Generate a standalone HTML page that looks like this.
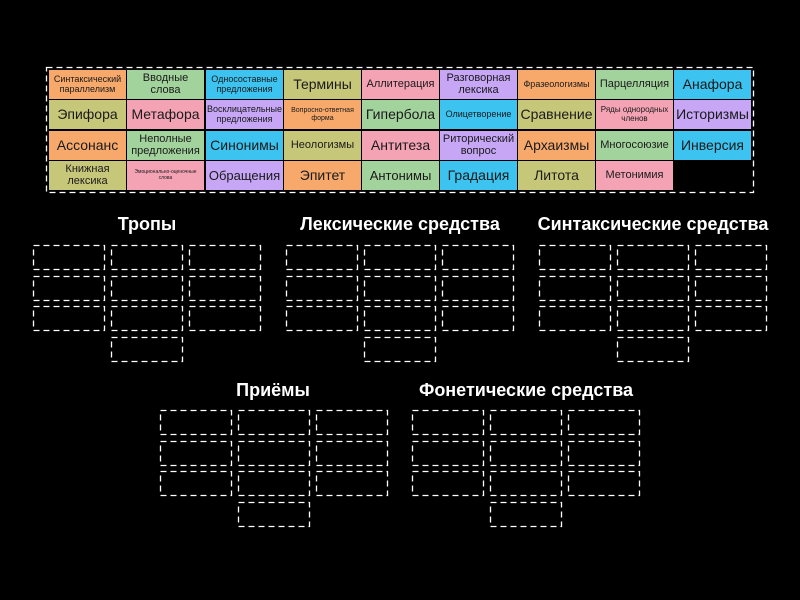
<!DOCTYPE html>
<html><head><meta charset="utf-8"><style>
body{margin:0;width:800px;height:600px;background:#000;position:relative;overflow:hidden;font-family:"Liberation Sans","DejaVu Sans",sans-serif}
.c{position:absolute;width:77px;height:29px;display:flex;align-items:center;justify-content:center;text-align:center;color:#1a1a1a;line-height:1.05;overflow:hidden;white-space:nowrap}
.o{background:#f6a96b}.g{background:#a3d39c}.b{background:#3cc3f0}.l{background:#c7c77a}.p{background:#f4a3b5}.u{background:#c6a6f5}
.L{font-size:14px}.M{font-size:11px}.S{font-size:9px}.T{font-size:5px}
.h{position:absolute;color:#fff;font-weight:bold;font-size:18px;text-align:center;width:300px}
svg{position:absolute;left:0;top:0}
</style></head><body>
<svg width="800" height="600" fill="none" stroke="#fff" stroke-width="1.3" stroke-dasharray="6 4">
<rect x="46.5" y="67.5" width="707" height="125"/>
<g id="g1">
<rect x="33.5" y="245.5" width="71" height="24"/><rect x="111.5" y="245.5" width="71" height="24"/><rect x="189.5" y="245.5" width="71" height="24"/>
<rect x="33.5" y="276.5" width="71" height="24"/><rect x="111.5" y="276.5" width="71" height="24"/><rect x="189.5" y="276.5" width="71" height="24"/>
<rect x="33.5" y="306.5" width="71" height="24"/><rect x="111.5" y="306.5" width="71" height="24"/><rect x="189.5" y="306.5" width="71" height="24"/>
<rect x="111.5" y="337.5" width="71" height="24"/>
</g>
<use href="#g1" x="253"/>
<use href="#g1" x="506"/>
<use href="#g1" x="127" y="165"/>
<use href="#g1" x="379" y="165"/>
</svg>
<div class="c o S" style="left:49px;top:70px">Синтаксический<br>параллелизм</div>
<div class="c g M" style="left:127px;top:70px">Вводные<br>слова</div>
<div class="c b S" style="left:206px;top:70px">Односоставные<br>предложения</div>
<div class="c l L" style="left:284px;top:70px">Термины</div>
<div class="c p M" style="left:362px;top:70px">Аллитерация</div>
<div class="c u M" style="left:440px;top:70px">Разговорная<br>лексика</div>
<div class="c o S" style="left:518px;top:70px">Фразеологизмы</div>
<div class="c g M" style="left:596px;top:70px">Парцелляция</div>
<div class="c b L" style="left:674px;top:70px">Анафора</div>
<div class="c l L" style="left:49px;top:100px">Эпифора</div>
<div class="c p L" style="left:127px;top:100px">Метафора</div>
<div class="c u S" style="left:206px;top:100px">Восклицательные<br>предложения</div>
<div class="c o" style="left:284px;top:100px;font-size:7px">Вопросно-ответная<br>форма</div>
<div class="c g L" style="left:362px;top:100px">Гипербола</div>
<div class="c b S" style="left:440px;top:100px">Олицетворение</div>
<div class="c l L" style="left:518px;top:100px">Сравнение</div>
<div class="c p" style="left:596px;top:100px;font-size:8px">Ряды однородных<br>членов</div>
<div class="c u L" style="left:674px;top:100px">Историзмы</div>
<div class="c o L" style="left:49px;top:131px">Ассонанс</div>
<div class="c g M" style="left:127px;top:131px">Неполные<br>предложения</div>
<div class="c b L" style="left:206px;top:131px">Синонимы</div>
<div class="c l M" style="left:284px;top:131px">Неологизмы</div>
<div class="c p L" style="left:362px;top:131px">Антитеза</div>
<div class="c u M" style="left:440px;top:131px">Риторический<br>вопрос</div>
<div class="c o L" style="left:518px;top:131px">Архаизмы</div>
<div class="c g M" style="left:596px;top:131px">Многосоюзие</div>
<div class="c b L" style="left:674px;top:131px">Инверсия</div>
<div class="c l M" style="left:49px;top:161px">Книжная<br>лексика</div>
<div class="c p T" style="left:127px;top:161px">Эмоционально-оценочные<br>слова</div>
<div class="c u" style="left:206px;top:161px;font-size:13px">Обращения</div>
<div class="c o L" style="left:284px;top:161px">Эпитет</div>
<div class="c g" style="left:362px;top:161px;font-size:13px">Антонимы</div>
<div class="c b L" style="left:440px;top:161px">Градация</div>
<div class="c l L" style="left:518px;top:161px">Литота</div>
<div class="c p M" style="left:596px;top:161px">Метонимия</div>

<div class="h" style="left:-3px;top:214px">Тропы</div>
<div class="h" style="left:250px;top:214px">Лексические средства</div>
<div class="h" style="left:503px;top:214px">Синтаксические средства</div>
<div class="h" style="left:123px;top:380px">Приёмы</div>
<div class="h" style="left:376px;top:380px">Фонетические средства</div>
</body></html>
